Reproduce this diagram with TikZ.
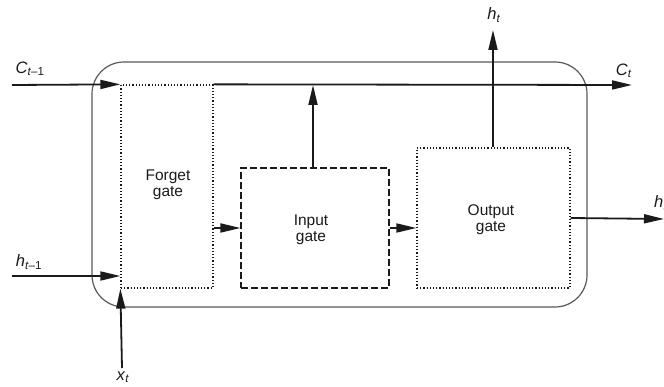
\documentclass[tikz,border=0pt]{standalone}
\usepackage{fontspec}
\setmainfont{Liberation Sans}
\usetikzlibrary{arrows.meta}
\newcommand\lbl[2]{\textit{#1}\textsubscript{#2}}
\definecolor{ink}{HTML}{1A1A1A}
\tikzset{
  flow/.style={line width=1.8pt, draw=ink, -{Triangle[length=20pt,width=9pt]}},
  gatetext/.style={font=\fontsize{15.5}{16}\selectfont, text=ink, align=center},
  dottedbox/.style={draw=ink, line width=1.3pt, dash pattern=on 1.2pt off 2pt},
  dashedbox/.style={draw=ink, line width=1.2pt, dash pattern=on 7pt off 3pt},
  lab/.style={font=\fontsize{16.5}{17}\selectfont, text=ink, inner sep=0pt}
}
\begin{document}
\begin{tikzpicture}[x=1pt,y=-1pt]
\useasboundingbox (0,0) rectangle (664,387);
% outer cell
\draw[gray!70!black, line width=1.2pt, rounded corners=32pt] (92,62) rectangle (587,307);
% gates
\node[dottedbox, minimum width=92pt, minimum height=203pt, inner sep=0pt] (forget) at (167,186.5) {};
\node[gatetext] (forgett) at (168,185) {Forget\\gate};
\node[dashedbox, minimum width=148pt, minimum height=120pt, inner sep=0pt] (input) at (315,228) {};
\node[gatetext] (inputt) at (311,230) {Input\\gate};
\node[dottedbox, minimum width=153pt, minimum height=140pt, inner sep=0pt] (output) at (493.5,218) {};
\node[gatetext] (outputt) at (491,220) {Output\\gate};
% coordinates
\coordinate (cin) at (12,85);
\coordinate (cout) at (632,85);
\coordinate (hin) at (12,276);
\coordinate (xin) at (122,368);
\coordinate (htop) at (493,30);
\coordinate (hout) at (664,219);
\coordinate (cup) at (313,85);
% connectors
\draw[flow] (cin) -- (forget.north west);
\draw[flow] (forget.north east) -- (cout);
\draw[flow] (hin) -- (hin -| forget.west);
\draw[flow] (xin) -- (forget.south west);
\draw[flow] (forget.east |- input.west) -- (input.west);
\draw[flow] (input.east) -- (output.west |- input.east);
\draw[flow] (input.north -| cup) -- (cup);
\draw[flow] (output.north -| htop) -- (htop);
\draw[flow] (output.east) -- (hout);
% labels
\node[lab] (lc1) at (30,69) {\lbl{C}{\textit{t}–1}};
\node[lab] (lct) at (624,71) {\lbl{C}{\textit{t}}};
\node[lab] (lh1) at (29,262) {\lbl{h}{\textit{t}–1}};
\node[lab] (lx) at (123,377) {\lbl{x}{\textit{t}}};
\node[lab] (lht) at (494,15) {\lbl{h}{\textit{t}}};
\node[lab, anchor=west] (lh) at (654,203) {\lbl{h}{\textit{t}}};
\end{tikzpicture}
\end{document}
